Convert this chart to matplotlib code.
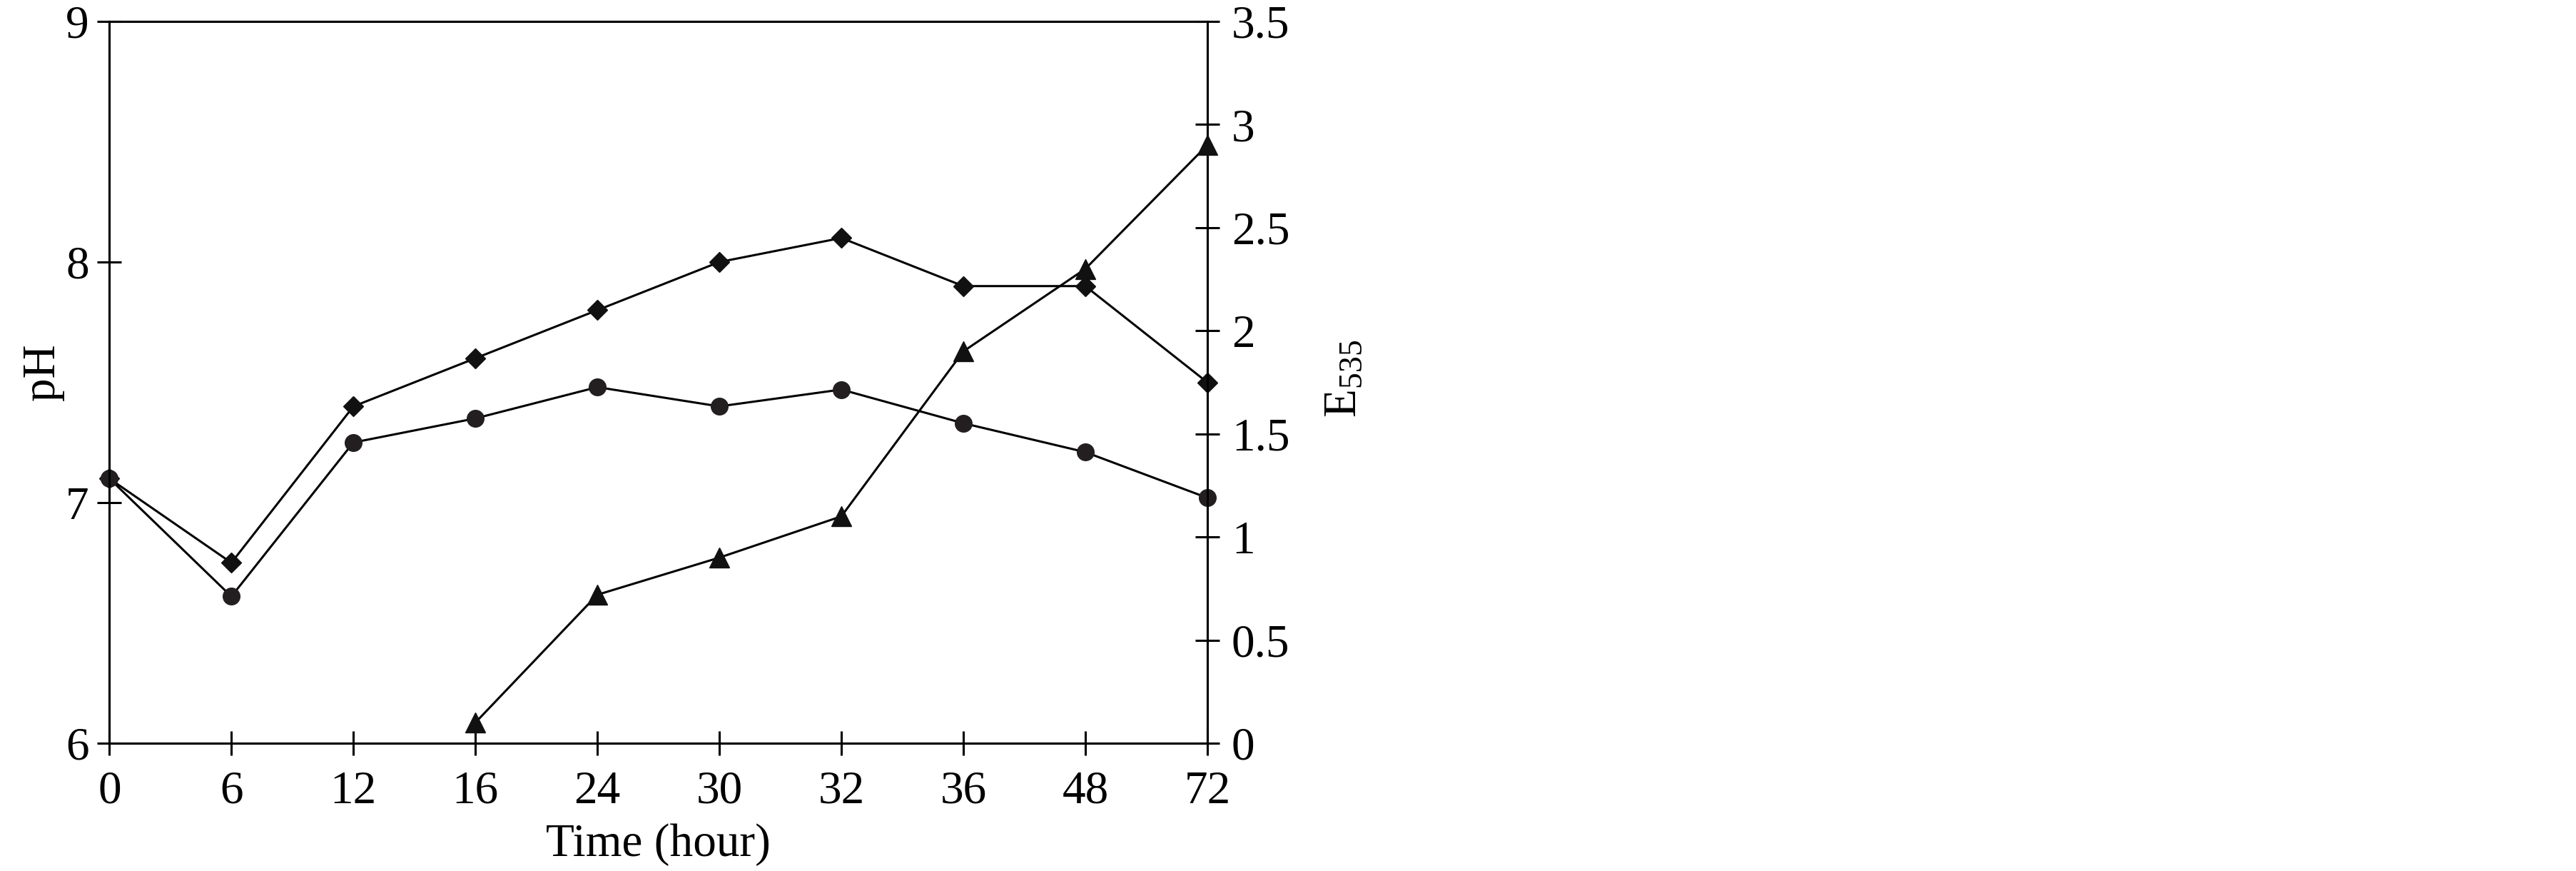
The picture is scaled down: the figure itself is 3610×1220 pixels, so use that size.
import matplotlib
matplotlib.use("Agg")
import matplotlib.pyplot as plt

# data
times = ['0', '6', '12', '16', '24', '30', '32', '36', '48', '72']
ph_diamond = [7.1, 6.75, 7.4, 7.6, 7.8, 8.0, 8.1, 7.9, 7.9, 7.5]
ph_circle = [7.1, 6.61, 7.25, 7.35, 7.48, 7.40, 7.47, 7.33, 7.21, 7.02]
e535_times = ['16', '24', '30', '32', '36', '48', '72']
e535 = [0.1, 0.72, 0.9, 1.1, 1.9, 2.3, 2.9]

plt.rcParams['font.family'] = ['Liberation Serif', 'DejaVu Serif']
plt.rcParams['mathtext.fontset'] = 'custom'
plt.rcParams['mathtext.rm'] = 'Liberation Serif'
plt.rcParams['mathtext.it'] = 'Liberation Serif'

fs = 47
lw = 2.2

fig = plt.figure(figsize=(36.1, 12.2), dpi=100)
ax = fig.add_axes([0.04247, 0.1467, 0.4262, 0.8287])
ax2 = ax.twinx()

pos = list(range(len(times)))
tri_pos = [times.index(t) for t in e535_times]

ax.plot(pos, ph_diamond, color='black', lw=lw, marker='D', ms=14,
        mfc='#111111', mec='#111111', clip_on=False, zorder=3)
ax.plot(pos, ph_circle, color='black', lw=lw, marker='o', ms=17,
        mfc='#231f20', mec='#231f20', clip_on=False, zorder=3)
ax2.plot(tri_pos, e535, color='black', lw=lw, marker='^', ms=20,
         mfc='#111111', mec='#111111', clip_on=False, zorder=3)

ax.set_xlim(0, len(times) - 1)
ax.set_ylim(6, 9)
ax2.set_ylim(0, 3.5)
ax.set_xticks(pos)
ax.set_xticklabels(times)
ax.set_yticks([6, 7, 8, 9])
ax2.set_yticks([0, 0.5, 1, 1.5, 2, 2.5, 3, 3.5])
ax2.set_yticklabels(['0', '0.5', '1', '1.5', '2', '2.5', '3', '3.5'])

for a in (ax, ax2):
    for s in a.spines.values():
        s.set_linewidth(lw)

ax.tick_params(axis='x', direction='inout', length=25, width=lw, pad=15,
               labelsize=fs, top=False)
ax.tick_params(axis='y', direction='inout', length=25, width=lw, pad=8,
               labelsize=fs, right=False)
ax2.tick_params(axis='y', direction='inout', length=25, width=lw, pad=12,
                labelsize=fs)

ax.set_xlabel('Time (hour)', fontsize=fs)
ax.xaxis.set_label_coords(0.5, -0.111)
ax.set_ylabel('pH', fontsize=fs)
ax.yaxis.set_label_coords(-0.0411, 0.514)
ax2.set_ylabel(r'E$_{535}$', fontsize=fs)
ax2.yaxis.set_label_coords(1.106, 0.505)

fig.savefig('out.png', dpi=100, facecolor='white')
